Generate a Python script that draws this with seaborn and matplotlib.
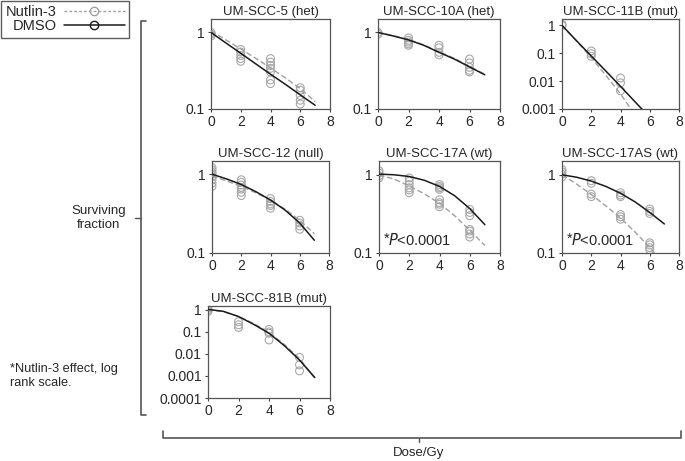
#!/usr/bin/env python3
"""
Clonogenic survival curves, DMSO vs Nutlin-3, seven UM-SCC cell lines (seaborn)
"""

import matplotlib
matplotlib.use("Agg")
import matplotlib.pyplot as plt
import pandas as pd
import seaborn as sns
from matplotlib.lines import Line2D
from matplotlib.ticker import FixedLocator, NullLocator

# ── Data ──
CURVE_DOSE = [0, 1, 2, 3, 4, 5, 6, 7]

SCC5_DMSO = [1.0, 0.73, 0.535, 0.39, 0.285, 0.21, 0.153, 0.112]
SCC5_NUT = [1.05, 0.80, 0.61, 0.46, 0.345, 0.255, 0.185, 0.125]
SCC5_PT_DOSE = [0, 0, 0, 2, 2, 2, 2, 2, 4, 4, 4, 4, 4, 4, 4, 6, 6, 6, 6, 6]
SCC5_PT_SF = [1.0, 0.95, 0.9, 0.6, 0.555, 0.5, 0.456, 0.42,
              0.456, 0.41, 0.37, 0.34, 0.305, 0.24, 0.215,
              0.19, 0.176, 0.15, 0.13, 0.116]

SCC10A_DMSO = [1.0, 0.90, 0.80, 0.68, 0.55, 0.45, 0.355, 0.28]
SCC10A_NUT = [1.0, 0.91, 0.81, 0.69, 0.56, 0.46, 0.36, 0.285]
SCC10A_PT_DOSE = [0, 0, 2, 2, 2, 2, 2, 4, 4, 4, 4, 6, 6, 6, 6, 6]
SCC10A_PT_SF = [1.0, 0.95, 0.85, 0.79, 0.75, 0.71, 0.68,
                0.68, 0.63, 0.55, 0.51, 0.45, 0.40, 0.35, 0.32, 0.305]

SCC11B_DMSO = [1.0, 0.28, 0.08, 0.023, 0.0065, 0.0018, 0.0005, 0.00015]
SCC11B_NUT = [1.0, 0.27, 0.07, 0.016, 0.0035, 0.0006, 0.0001, 0.00002]
SCC11B_PT_DOSE = [0, 0, 2, 2, 2, 4, 4, 4]
SCC11B_PT_SF = [1.1, 1.0, 0.121, 0.097, 0.078, 0.013, 0.0087, 0.0045]

SCC12_DMSO = [1.0, 0.87, 0.74, 0.60, 0.47, 0.35, 0.24, 0.145]
SCC12_NUT = [0.95, 0.82, 0.70, 0.58, 0.47, 0.36, 0.26, 0.175]
SCC12_PT_DOSE = [0, 0, 0, 0, 0, 0, 0, 0, 2, 2, 2, 2, 2, 2, 2,
                 4, 4, 4, 4, 4, 6, 6, 6, 6]
SCC12_PT_SF = [1.21, 1.13, 1.06, 1.0, 0.93, 0.85, 0.77, 0.70,
               0.85, 0.79, 0.73, 0.68, 0.645, 0.59, 0.535,
               0.49, 0.45, 0.42, 0.40, 0.37, 0.26, 0.24, 0.22, 0.20]

SCC17A_DMSO = [1.02, 1.0, 0.95, 0.85, 0.71, 0.54, 0.37, 0.23]
SCC17A_NUT = [1.0, 0.88, 0.72, 0.57, 0.43, 0.30, 0.195, 0.125]
SCC17A_PT_DOSE = [0, 0, 0, 0, 2, 2, 2, 2, 2, 2, 4, 4, 4, 4, 4, 4, 4, 4,
                  6, 6, 6, 6, 6, 6, 6]
SCC17A_PT_SF = [1.12, 1.05, 0.97, 0.91, 0.91, 0.83, 0.75, 0.68, 0.64, 0.59,
                0.75, 0.71, 0.68, 0.65, 0.48, 0.44, 0.42, 0.39,
                0.36, 0.33, 0.30, 0.20, 0.19, 0.175, 0.16]

SCC17AS_DMSO = [1.0, 0.93, 0.83, 0.71, 0.58, 0.45, 0.33, 0.235]
SCC17AS_NUT = [1.0, 0.76, 0.56, 0.40, 0.28, 0.185, 0.118, 0.07]
SCC17AS_PT_DOSE = [0, 0, 0, 0, 2, 2, 2, 2, 4, 4, 4, 4, 4, 4,
                   6, 6, 6, 6, 6, 6, 6]
SCC17AS_PT_SF = [1.17, 1.09, 1.02, 0.94, 0.84, 0.78, 0.566, 0.525,
                 0.59, 0.55, 0.525, 0.31, 0.29, 0.27,
                 0.365, 0.34, 0.32, 0.135, 0.127, 0.117, 0.11]

SCC81B_DMSO = [1.05, 0.86, 0.50, 0.22, 0.087, 0.024, 0.0053, 0.00085]
SCC81B_NUT = [1.0, 0.84, 0.51, 0.24, 0.095, 0.027, 0.0062, 0.0008]
SCC81B_PT_DOSE = [0, 0, 0, 2, 2, 2, 4, 4, 4, 4, 6, 6, 6]
SCC81B_PT_SF = [1.19, 1.0, 0.84, 0.29, 0.21, 0.16,
                0.13, 0.10, 0.087, 0.043, 0.007, 0.0032, 0.0017]

X_TICKS = [0, 2, 4, 6, 8]


def make_panels():
    # (title, dmso, nutlin, pt dose, pt sf, y ticks, y tick labels, ymin, ymax, P text, axes px box)
    return [
        ('UM-SCC-5 (het)', SCC5_DMSO, SCC5_NUT, SCC5_PT_DOSE, SCC5_PT_SF,
         [0.1, 1], ['0.1', '1'], 0.1, 1.5, False, (211, 19, 330, 109)),
        ('UM-SCC-10A (het)', SCC10A_DMSO, SCC10A_NUT, SCC10A_PT_DOSE, SCC10A_PT_SF,
         [0.1, 1], ['0.1', '1'], 0.1, 1.5, False, (378, 19, 500, 109)),
        ('UM-SCC-11B (mut)', SCC11B_DMSO, SCC11B_NUT, SCC11B_PT_DOSE, SCC11B_PT_SF,
         [0.001, 0.01, 0.1, 1], ['0.001', '0.01', '0.1', '1'], 0.001, 1.7, False,
         (562, 19, 679, 109)),
        ('UM-SCC-12 (null)', SCC12_DMSO, SCC12_NUT, SCC12_PT_DOSE, SCC12_PT_SF,
         [0.1, 1], ['0.1', '1'], 0.1, 1.47, False, (212, 161, 329, 253)),
        ('UM-SCC-17A (wt)', SCC17A_DMSO, SCC17A_NUT, SCC17A_PT_DOSE, SCC17A_PT_SF,
         [0.1, 1], ['0.1', '1'], 0.1, 1.5, True, (379, 161, 500, 253)),
        ('UM-SCC-17AS (wt)', SCC17AS_DMSO, SCC17AS_NUT, SCC17AS_PT_DOSE, SCC17AS_PT_SF,
         [0.1, 1], ['0.1', '1'], 0.1, 1.5, True, (562, 161, 679, 253)),
        ('UM-SCC-81B (mut)', SCC81B_DMSO, SCC81B_NUT, SCC81B_PT_DOSE, SCC81B_PT_SF,
         [0.0001, 0.001, 0.01, 0.1, 1], ['0.0001', '0.001', '0.01', '0.1', '1'],
         0.0001, 1.5, False, (208, 306, 330, 398)),
    ]


def main():
    sns.set_theme(style='white')
    plt.rcParams['font.family'] = ['Liberation Sans', 'DejaVu Sans']
    plt.rcParams['font.size'] = 9.5

    W, H = 685, 461
    fig = plt.figure(figsize=(W / 100, H / 100), dpi=100)

    def px_rect(l, t, r, b):
        return [l / W, 1 - b / H, (r - l) / W, (b - t) / H]

    def fig_line(xs, ys, **kw):
        fig.add_artist(Line2D([x / W for x in xs], [1 - y / H for y in ys],
                              transform=fig.transFigure, **kw))

    dmso_color = '#1a1a1a'
    nut_color = '#a0a0a0'

    for (title, dmso, nut, pd_, ps, yt, ytl, ymin, ymax, ptxt, box) in make_panels():
        ax = fig.add_axes(px_rect(*box))
        ax.set_yscale('log')

        curves = pd.DataFrame({'dose': CURVE_DOSE, 'dmso': dmso, 'nut': nut})
        pts = pd.DataFrame({'dose': pd_, 'sf': ps})

        sns.scatterplot(data=pts, x='dose', y='sf', ax=ax, marker='o',
                        s=32, facecolor='none', edgecolor='#a8a8a8',
                        linewidth=0.8, zorder=2)
        sns.lineplot(data=curves, x='dose', y='nut', ax=ax,
                     color=nut_color, lw=1.0, zorder=3)
        ax.lines[-1].set_dashes((4, 2))
        sns.lineplot(data=curves, x='dose', y='dmso', ax=ax,
                     color=dmso_color, lw=1.1, zorder=4)

        ax.set_xlim(0, 8)
        ax.set_ylim(ymin, ymax)
        ax.set_xticks(X_TICKS)
        ax.set_xticklabels([str(t) for t in X_TICKS])
        ax.yaxis.set_major_locator(FixedLocator(yt))
        ax.yaxis.set_minor_locator(NullLocator())
        ax.set_yticklabels(ytl)
        ax.set_xlabel('')
        ax.set_ylabel('')
        ax.tick_params(axis='both', which='major', length=2.5, width=0.8,
                       color='#444444', labelsize=10, pad=2, direction='out',
                       bottom=True, left=True)
        for sp in ax.spines.values():
            sp.set_color('#555555')
            sp.set_linewidth(0.9)
        ax.set_title(title, fontsize=9.5, pad=3)
        if ptxt:
            ax.text(0.3, 0.15, '*', fontsize=10.5, va='center', ha='left')
            ax.text(0.6, 0.145, '$\\it{P}$<0.0001', fontsize=10.5,
                    va='center', ha='left')

    # Left bracket + "Surviving fraction"
    bx = 141
    fig_line([bx + 5, bx, bx, bx + 5], [21, 21, 415, 415], color='#555555', lw=1.2)
    fig_line([bx, bx - 6], [218, 218], color='#555555', lw=1.0)
    fig.text(99 / W, 1 - 218 / H, 'Surviving\nfraction', ha='center', va='center',
             fontsize=9.5, linespacing=1.25)

    # Bottom bracket + "Dose/Gy"
    fig_line([163, 163, 681, 681], [431, 438, 438, 431], color='#555555', lw=1.2)
    fig_line([419, 419], [438, 442], color='#555555', lw=1.0)
    fig.text(419 / W, 1 - 453 / H, 'Dose/Gy', ha='center', va='center', fontsize=9.5)

    # Footnote
    fig.text(10 / W, 1 - 376 / H, '*Nutlin-3 effect, log\nrank scale.',
             ha='left', va='center', fontsize=9.2, linespacing=1.2)

    # Legend
    handles = [
        Line2D([], [], color=nut_color, lw=1.0, ls=(0, (2, 1.5)), marker='o',
               markersize=6, markerfacecolor='none', markeredgecolor=nut_color),
        Line2D([], [], color=dmso_color, lw=1.1, marker='o', markersize=6,
               markerfacecolor='none', markeredgecolor=dmso_color),
    ]
    leg = fig.legend(handles, ['Nutlin-3', 'DMSO'], loc='upper left',
                     bbox_to_anchor=(1 / W, 1 - 1 / H), markerfirst=False,
                     handlelength=4.2, handletextpad=0.5, fontsize=10.5,
                     frameon=True, fancybox=False, borderpad=0.3,
                     labelspacing=0.0, borderaxespad=0, numpoints=1)
    leg.get_frame().set_edgecolor('#333333')
    leg.get_frame().set_linewidth(1.0)

    fig.savefig('out.png', dpi=100, facecolor='white')


if __name__ == "__main__":
    main()
